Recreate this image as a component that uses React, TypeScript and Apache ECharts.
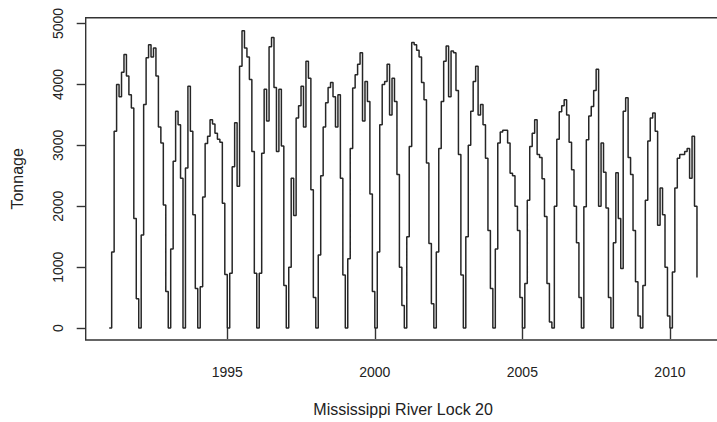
import React, { useEffect, useRef } from "react";
import * as echarts from "echarts";

// Monthly tonnage, Jan..Dec
const y1991 = [0, 1250, 3230, 4000, 3800, 4200, 4490, 4140, 3830, 3615, 1800, 480];
const y1992 = [0, 1530, 3670, 4440, 4650, 4450, 4600, 4140, 3300, 3040, 2020, 600];
const y1993 = [0, 1300, 2740, 3560, 3340, 2460, 0, 2630, 3970, 3230, 1860, 650];
const y1994 = [0, 680, 2150, 3030, 3150, 3420, 3350, 3200, 3100, 3050, 2050, 880];
const y1995 = [0, 900, 2650, 3370, 2330, 4300, 4880, 4600, 4450, 4080, 2900, 900];
const y1996 = [0, 900, 2870, 3920, 3400, 4620, 4770, 3950, 2900, 3920, 2990, 700];
const y1997 = [0, 1000, 2460, 1850, 3450, 3650, 3970, 3300, 4380, 4100, 2270, 500];
const y1998 = [0, 1200, 2500, 3300, 3700, 3950, 4030, 3800, 3300, 3830, 2460, 870];
const y1999 = [0, 1140, 2950, 3940, 4160, 4330, 4520, 3400, 4050, 3720, 2200, 600];
const y2000 = [0, 1250, 3340, 4000, 4050, 4330, 3500, 4100, 3720, 2520, 1000, 370];
const y2001 = [0, 1500, 2980, 4690, 4650, 4560, 4450, 4030, 3750, 2710, 1390, 400];
const y2002 = [0, 1250, 2950, 3720, 4380, 4630, 3800, 4550, 4520, 3900, 2850, 870];
const y2003 = [0, 1500, 3000, 3560, 4050, 4300, 3500, 3670, 3340, 2790, 1600, 650];
const y2004 = [0, 1300, 3040, 3220, 3250, 3250, 3040, 2540, 2500, 2000, 1600, 500];
const y2005 = [0, 730, 2100, 2980, 3200, 3420, 2850, 2800, 2450, 1830, 730, 100];
const y2006 = [0, 2000, 3100, 3550, 3650, 3750, 3500, 3050, 2600, 2000, 1400, 500];
const y2007 = [0, 1990, 3090, 3480, 3640, 3900, 4250, 2000, 3040, 2560, 1970, 500];
const y2008 = [0, 1400, 2550, 1800, 980, 3560, 3780, 2800, 2520, 1600, 760, 200];
const y2009 = [0, 700, 2100, 3070, 3450, 3530, 3230, 1690, 2300, 1860, 1000, 200];
const y2010 = [0, 920, 2300, 2790, 2850, 2850, 2900, 2950, 2460, 3150, 2000, 830];

const years = [
  1991, 1992, 1993, 1994, 1995, 1996, 1997, 1998, 1999, 2000,
  2001, 2002, 2003, 2004, 2005, 2006, 2007, 2008, 2009, 2010,
];
const yearly = [
  y1991, y1992, y1993, y1994, y1995, y1996, y1997, y1998, y1999, y2000,
  y2001, y2002, y2003, y2004, y2005, y2006, y2007, y2008, y2009, y2010,
];
const xTicks = [1995, 2000, 2005, 2010];
const yTicks = [0, 1000, 2000, 3000, 4000, 5000];

const FONT = "'Liberation Sans', Arial, Helvetica, sans-serif";
const TEXT = "#222";

export default function App() {
  const ref = useRef<HTMLDivElement>(null);

  useEffect(() => {
    const chart = echarts.init(ref.current!, null, { renderer: "svg" });
    const data: number[][] = [];
    years.forEach((yr, i) => {
      yearly[i].forEach((v, m) => data.push([yr + m / 12, v]));
    });

    chart.setOption({
      animation: false,
      backgroundColor: "#fff",
      grid: {
        left: 85.7,
        top: 17.7,
        width: 634.8,
        height: 322.3,
        show: true,
        borderColor: "#333",
        borderWidth: 1.4,
        backgroundColor: "transparent",
      },
      xAxis: {
        type: "value",
        min: 1990.203,
        max: 2011.714,
        name: "Mississippi River Lock 20",
        nameLocation: "middle",
        nameGap: 61,
        nameTextStyle: { color: TEXT, fontFamily: FONT, fontSize: 16 },
        axisLine: { show: false },
        splitLine: { show: false },
        axisTick: {
          show: true,
          length: 11,
          customValues: xTicks,
          lineStyle: { color: "#333", width: 1.4 },
        },
        axisLabel: {
          customValues: xTicks,
          margin: 25,
          color: TEXT,
          fontFamily: FONT,
          fontSize: 14,
          formatter: (v: number) => String(v),
        },
      },
      yAxis: {
        type: "value",
        min: -196,
        max: 5096,
        name: "Tonnage",
        nameLocation: "middle",
        nameGap: 60,
        nameRotate: 90,
        nameTextStyle: { color: TEXT, fontFamily: FONT, fontSize: 16 },
        axisLine: { show: false },
        splitLine: { show: false },
        axisTick: {
          show: true,
          length: 9,
          customValues: yTicks,
          lineStyle: { color: "#333", width: 1.4 },
        },
        axisLabel: {
          customValues: yTicks,
          rotate: 90,
          margin: 21,
          color: TEXT,
          fontFamily: FONT,
          fontSize: 14,
          formatter: (v: number) => String(v),
        },
      },
      series: [
        {
          type: "line",
          step: "end",
          data,
          showSymbol: false,
          lineStyle: { color: "#262626", width: 1.5 },
          clip: true,
        },
      ],
    });

    return () => chart.dispose();
  }, []);

  return (
    <div
      style={{
        position: "fixed",
        left: 0,
        top: 0,
        width: 717,
        height: 422,
        overflow: "hidden",
        background: "#fff",
      }}
    >
      <div ref={ref} style={{ width: 726, height: 422 }} />
    </div>
  );
}
